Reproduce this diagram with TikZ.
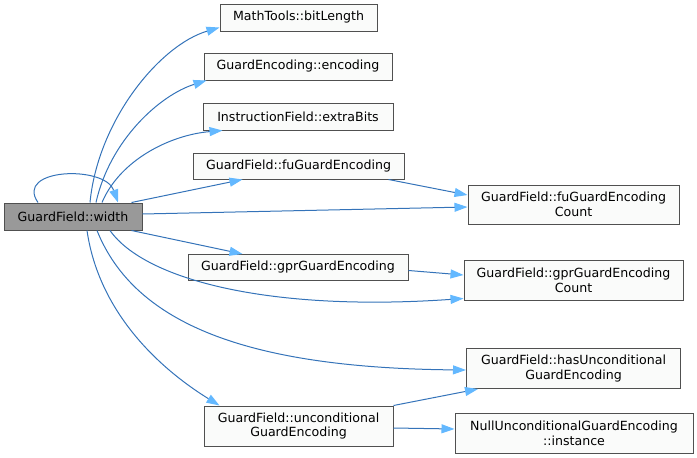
\documentclass[tikz,border=0pt]{standalone}
\usepackage{fontspec}
\setmainfont{DejaVu Sans}
\usetikzlibrary{arrows.meta}
\definecolor{edgecol}{RGB}{52,115,185}
\definecolor{headcol}{RGB}{99,184,255}
\definecolor{boxfill}{RGB}{250,251,250}
\definecolor{boxline}{RGB}{80,80,80}
\definecolor{curfill}{RGB}{153,153,153}
\begin{document}
\begin{tikzpicture}[x=1pt,y=-1pt,
  box/.style={draw=boxline, fill=boxfill, line width=1pt, inner sep=0pt, align=center,
    font=\fontsize{12.6}{14.6}\selectfont},
  cur/.style={box, fill=curfill},
  edge/.style={draw=edgecol, line width=1pt,
    -{Triangle[length=13pt,width=9pt,fill=headcol,color=headcol]}}]
\useasboundingbox (0,0) rectangle (697,458);
\node[cur, minimum width=138pt, minimum height=27pt] (width) at (73,216.5) {GuardField::width};
\node[box, minimum width=157pt, minimum height=27pt] (bitLength) at (298.5,17.5) {MathTools::bitLength};
\node[box, minimum width=188pt, minimum height=27pt] (encoding) at (298,66.5) {GuardEncoding::encoding};
\node[box, minimum width=190pt, minimum height=27pt] (extraBits) at (298,116.5) {InstructionField::extraBits};
\node[box, minimum width=211pt, minimum height=26pt] (fu) at (298.5,166) {GuardField::fuGuardEncoding};
\node[box, minimum width=220pt, minimum height=26pt] (gpr) at (298,267.5) {GuardField::gprGuardEncoding};
\node[box, minimum width=189pt, minimum height=40pt] (uncond) at (298.5,426) {GuardField::unconditional\\GuardEncoding};
\node[box, minimum width=211pt, minimum height=39pt] (fuCount) at (573.5,204.5) {GuardField::fuGuardEncoding\\Count};
\node[box, minimum width=219pt, minimum height=40pt] (gprCount) at (573.5,280) {GuardField::gprGuardEncoding\\Count};
\node[box, minimum width=214pt, minimum height=40pt] (hasU) at (573.5,368.5) {GuardField::hasUnconditional\\GuardEncoding};
\node[box, minimum width=238pt, minimum height=40pt] (null) at (574,433) {NullUnconditionalGuardEncoding\\::instance};

\draw[edge] ([xshift=17pt]width.north) .. controls (98,120) and (160,45) .. ([yshift=4pt]bitLength.south west);
\draw[edge] ([xshift=23pt]width.north) .. controls (110,140) and (160,95) .. ([xshift=3pt]encoding.south west);
\draw[edge] ([xshift=29pt]width.north) .. controls (120,160) and (170,135) .. ([xshift=20pt]extraBits.south west);
\draw[edge] ([xshift=-11pt]width.north east) -- ([xshift=50pt]fu.south west);
\draw[edge] ([yshift=2.5pt]width.east) -- ([yshift=-2.5pt]fuCount.west);
\draw[edge] ([xshift=-16pt]fu.south east) -- ([yshift=9.5pt]fuCount.west);
\draw[edge] ([xshift=-11pt]width.south east) -- ([xshift=55pt]gpr.north west);
\draw[edge] ([yshift=-3pt]gpr.east) -- ([yshift=5pt]gprCount.west);
\draw[edge] ([xshift=37pt]width.south) .. controls (145,280) and (270,312) .. ([yshift=2pt]gprCount.south west);
\draw[edge] ([xshift=24pt]width.south) .. controls (135,325) and (250,368) .. ([yshift=-1.5pt]hasU.west);
\draw[edge] ([xshift=14pt]width.south) .. controls (100,320) and (170,375) .. ([xshift=16pt]uncond.north west);
\draw[edge] ([xshift=-35pt]width.north) .. controls (14,168) and (105,165) .. ([xshift=45pt]width.north);
\draw[edge] (uncond.north east) -- ([xshift=12pt]hasU.south west);
\draw[edge] ([yshift=-2pt]uncond.east) -- ([yshift=4pt]null.west);
\end{tikzpicture}
\end{document}
